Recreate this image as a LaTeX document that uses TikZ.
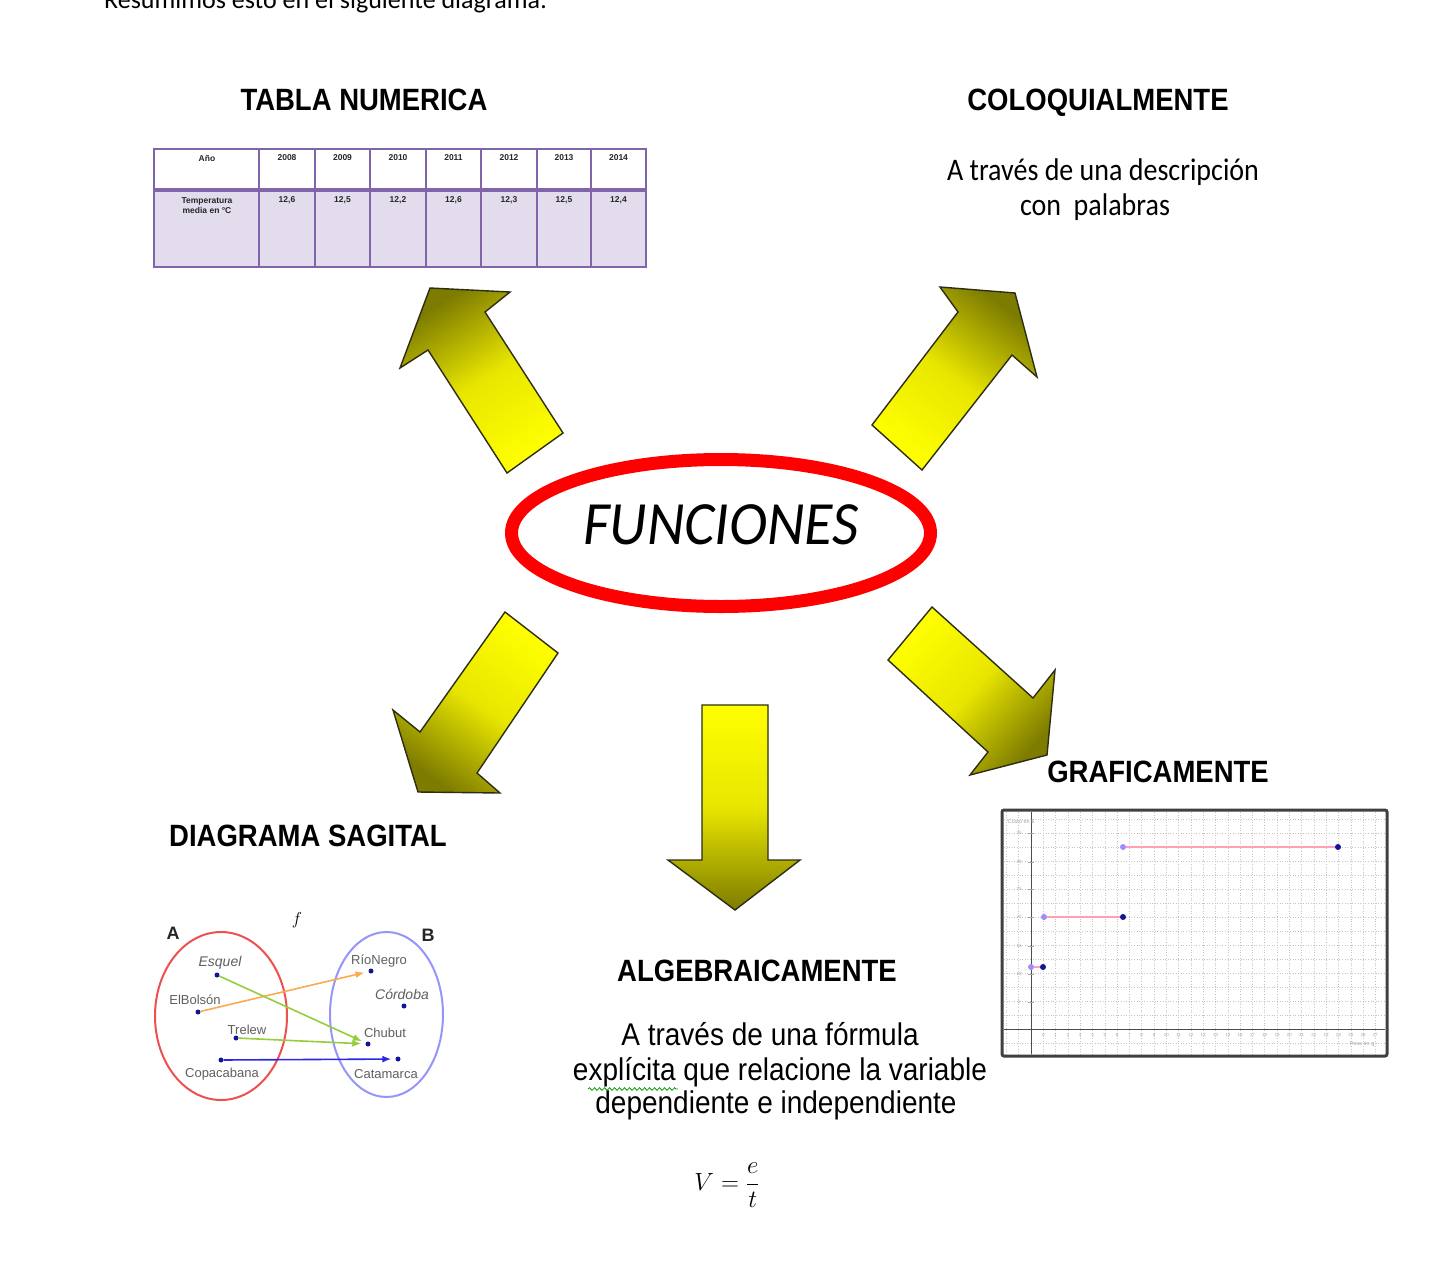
\documentclass[tikz,border=0pt]{standalone}
\usepackage{fontspec}
\setmainfont{Liberation Sans}
\newfontfamily\carlito{Carlito}
\usetikzlibrary{shapes.geometric,arrows.meta,decorations.pathmorphing}
\newcommand{\myfs}[1]{\fontsize{#1}{#1}\selectfont}
\newcommand{\tallt}[1]{\scalebox{1}[1.12]{#1}}
\definecolor{tline}{RGB}{130,100,170}
\definecolor{tlav}{RGB}{226,220,236}
\definecolor{olivedark}{RGB}{125,123,0}
\definecolor{ybright}{RGB}{255,255,0}
\definecolor{ymid}{RGB}{232,230,0}
\definecolor{aline}{RGB}{45,45,20}
\definecolor{sred}{RGB}{238,80,80}
\definecolor{sblue}{RGB}{150,150,250}
\definecolor{sdot}{RGB}{20,20,150}
\definecolor{sgreen}{RGB}{150,205,60}
\definecolor{sorange}{RGB}{250,170,80}
\definecolor{sarrblue}{RGB}{40,40,230}
\definecolor{gpink}{RGB}{255,160,180}
\definecolor{gopen}{RGB}{160,140,255}
\definecolor{slabel}{RGB}{95,95,95}
\tikzset{
  blockarrow/.style={draw=aline, line width=1.4pt, line join=miter,
    top color=olivedark, bottom color=ybright, middle color=ymid},
  head/.style={font=\bfseries\myfs{27.5}, inner sep=0pt, anchor=base},
  tline/.style={draw=tline, line width=2.4pt},
  ttxt/.style={font=\bfseries\myfs{8.5}, inner sep=0pt, text=black!85},
  sdotst/.style={circle, fill=sdot, inner sep=0pt, minimum size=5pt},
  slab/.style={text=slabel, inner sep=0pt, font=\myfs{13}},
  slabit/.style={text=slabel, inner sep=0pt, font=\rmfamily\itshape\myfs{14}},
  sarr/.style={line width=1.6pt, -{Latex[length=9pt,width=7pt]}, shorten >=4pt},
  gridl/.style={draw=gray!45, dotted, line width=0.6pt},
  gdotopen/.style={circle, fill=gopen, inner sep=0pt, minimum size=6pt},
  gdotfull/.style={circle, fill=sdot, inner sep=0pt, minimum size=6pt},
  gseg/.style={draw=gpink, line width=2pt},
  gtick/.style={text=gray!70, inner sep=0pt, font=\myfs{4.5}},
  bodytxt/.style={anchor=base, inner sep=0pt, font=\myfs{28}},
  colotxt/.style={anchor=base, inner sep=0pt, font=\carlito\myfs{28}},
}
\begin{document}
\begin{tikzpicture}[x=1pt,y=-1pt]
\clip (0,0) rectangle (1435,1283);
\fill[white] (0,0) rectangle (1435,1283);

% top cut-off text (cut off in the reference as well)
\node[anchor=base west, inner sep=0pt, font=\carlito\myfs{26}] (intro) at (104,8) {Resumimos esto en el siguiente diagrama:};

% headings
\node[head] (tabla) at (364,110) {\tallt{TABLA NUMERICA}};
\node[head] (colo) at (1098,110) {\tallt{COLOQUIALMENTE}};
\node[head] (graf) at (1158,782) {\tallt{GRAFICAMENTE}};
\node[head] (diag) at (308,846) {\tallt{DIAGRAMA SAGITAL}};
\node[head] (alg) at (757,981) {\tallt{ALGEBRAICAMENTE}};

% coloquial text
\node[colotxt] (colo1) at (1103,180) {\tallt{A través de una descripción}};
\node[colotxt] (colo2) at (1095,215) {\tallt{con\ \ palabras}};

% table
\fill[tlav] (154,190) rectangle (646,267);
\draw[tline] (154,149) rectangle (646,267);
\draw[tline, line width=3.4pt] (154,190) -- (646,190);
\foreach \x in {259,315,370,426,481,537,591} \draw[tline] (\x,149) -- (\x,267);
\node[ttxt] (ano) at (207,158) {Año};
\node[ttxt, align=center, font=\bfseries\fontsize{8.5}{10}\selectfont] (temp) at (207,206) {Temperatura\\media en °C};
\foreach \cx/\yr/\val [count=\i] in {287/2008/12{,}6, 342.5/2009/12{,}5, 398/2010/12{,}2, 453.5/2011/12{,}6, 509/2012/12{,}3, 564/2013/12{,}5, 618.5/2014/12{,}4}{
  \node[ttxt] (yr\i) at (\cx,158) {\yr};
  \node[ttxt] (val\i) at (\cx,200) {\val};
}

% block arrows
\path[blockarrow, shading angle=32.5] (430,288) -- (510,292) -- (485,312) -- (563,433) -- (507,473) -- (428,350) -- (400,368) -- cycle;
\path[blockarrow, shading angle=-37.4] (1015,293) -- (1037,377) -- (1012,355) -- (922,470) -- (872,425) -- (958,312) -- (940,287) -- cycle;
\path[blockarrow, shading angle=144.6] (418,792) -- (393,710) -- (420,732) -- (505,612) -- (558,653) -- (477,773) -- (500,793) -- cycle;
\path[blockarrow, shading angle=-131.6] (1047,755) -- (970,775) -- (988,752) -- (888,660) -- (932,607) -- (1033,698) -- (1055,670) -- cycle;
\path[blockarrow, shading angle=180] (702,705) -- (768,705) -- (768,860) -- (800,860) -- (735,910) -- (668,860) -- (702,860) -- cycle;

% central ellipse
\node[ellipse, draw=red, line width=13pt, minimum width=419pt, minimum height=147pt, inner sep=0pt] (fun) at (721,533) {};
\node[inner sep=0pt, font=\carlito\itshape\myfs{58}] (funtxt) at (721,525) {\scalebox{1}[1.06]{FUNCIONES}};

% algebraic text
\node[bodytxt] (alg1) at (770,1045) {\tallt{A través de una fórmula}};
\node[bodytxt] (alg2) at (780,1080) {\tallt{explícita que relacione la variable}};
\node[bodytxt] (alg3) at (776,1113) {\tallt{dependiente e independiente}};
\draw[green!60!black, line width=0.8pt, decorate, decoration={snake, amplitude=1.3pt, segment length=5pt}] (588,1089) -- (678,1089);
\node[inner sep=0pt, font=\myfs{32}] (formula) at (727,1185) {$\displaystyle V=\frac{\hbox{\myfs{25}$e$}}{\hbox{\myfs{25}$t$}}$};

% sagittal diagram
\draw[sred, line width=2pt] (221,1016) ellipse [x radius=66, y radius=84];
\draw[sblue, line width=2pt] (386.5,1014.5) ellipse [x radius=56.5, y radius=82.5];
\node[inner sep=0pt, font=\bfseries\myfs{18}, text=black!85] (setA) at (173,933) {A};
\node[inner sep=0pt, font=\bfseries\myfs{18}, text=black!85] (setB) at (428,935) {B};
\node[inner sep=0pt, font=\rmfamily\itshape\myfs{16}] (ff) at (297,920) {$f$};
\node[sdotst] (esq) at (217,975) {};
\node[sdotst] (bol) at (198,1012) {};
\node[sdotst] (tre) at (236,1038) {};
\node[sdotst] (cop) at (221,1060) {};
\node[sdotst] (rio) at (371,971) {};
\node[sdotst] (cor) at (404,1006) {};
\node[sdotst] (chu) at (368,1044) {};
\node[sdotst] (cat) at (398,1059) {};
\node[slabit] (esqL) at (220,963) {Esquel};
\node[slab] (bolL) at (195,1000) {ElBolsón};
\node[slab] (treL) at (247,1030) {Trelew};
\node[slab] (copL) at (222,1074) {Copacabana};
\node[slab] (rioL) at (379,961) {RíoNegro};
\node[slabit] (corL) at (402,994) {Córdoba};
\node[slab] (chuL) at (385,1033) {Chubut};
\node[slab] (catL) at (386,1074) {Catamarca};
\draw[sarr, sorange] (bol) -- (rio);
\draw[sarr, sgreen] (esq) -- (chu);
\draw[sarr, sgreen] (tre) -- (chu);
\draw[sarr, sarrblue] (cop) -- (cat);

% graph
\begin{scope}
\clip (1004,812) rectangle (1385,1054);
\foreach \x in {1006.4,1018.7,...,1385} \draw[gridl] (\x,812) -- (\x,1054);
\foreach \y in {1043,1029,...,812} \draw[gridl] (1004,\y) -- (1385,\y);
\end{scope}
\draw[gray!60!black, line width=0.8pt] (1004,1029) -- (1385,1029);
\draw[gray!60!black, line width=0.8pt] (1031,812) -- (1031,1054);
\foreach \y/\t [count=\i] in {1002/5,974/10,946/15,917/20,889/25,862/30,833/35}{
  \draw[gray!70, line width=0.6pt] (1028,\y) -- (1034,\y);
  \node[gtick] (ytk\i) at (1019,\y) {\t};
}
\foreach \i in {0,...,27}{
  \node[gtick] (xtk\i) at ({1043.3+12.3*\i},1035) {\i};
}
\node[gtick, font=\myfs{5.5}] (ylab) at (1021,822) {Costo en \$};
\node[gtick, font=\myfs{5.5}] (xlab) at (1362,1044) {Peso en g};
\node[gdotopen] (s1a) at (1123,847) {};
\node[gdotfull] (s1b) at (1338,847) {};
\node[gdotopen] (s2a) at (1044,917) {};
\node[gdotfull] (s2b) at (1123,917) {};
\node[gdotopen] (s3a) at (1031,967) {};
\node[gdotfull] (s3b) at (1043,967) {};
\draw[gseg] (s1a) -- (s1b);
\draw[gseg] (s2a) -- (s2b);
\draw[gseg] (s3a) -- (s3b);
\draw[black!75, line width=3pt, rounded corners=2pt] (1002,810) rectangle (1387,1056);
\end{tikzpicture}
\end{document}
